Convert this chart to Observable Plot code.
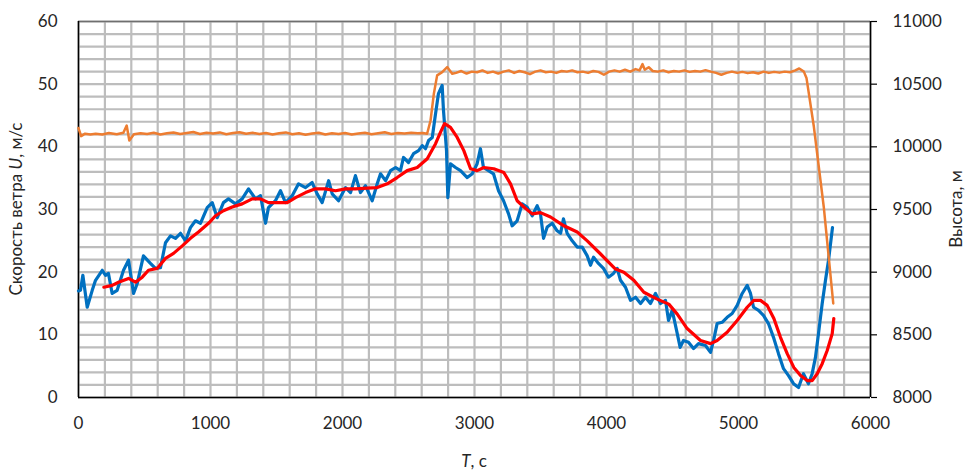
<!DOCTYPE html>
<html><head><meta charset="utf-8">
<script src="https://cdn.jsdelivr.net/npm/d3@7"></script>
<script src="https://cdn.jsdelivr.net/npm/@observablehq/plot@0.6"></script>
<style>body{margin:0;background:#fff}</style>
</head><body><div id="chart"></div>
<script>
// Raw wind speed U (m/s)
const speedTime = [0,15,33,66,104,129,180,205,227,255,293,341,379,417,445,492,545,583,621,659,697,735,773,811,848,886,924,975,1013,1051,1098,1136,1189,1240,1288,1341,1379,1417,1439,1492,1530,1568,1619,1667,1720,1770,1808,1846,1895,1922,1970,2023,2061,2098,2136,2174,2225,2263,2288,2326,2364,2402,2439,2462,2500,2538,2576,2604,2629,2652,2680,2705,2727,2755,2765,2788,2798,2818,2856,2894,2945,2983,3020,3045,3068,3106,3144,3182,3220,3258,3285,3323,3361,3398,3437,3475,3500,3523,3551,3589,3626,3652,3674,3702,3740,3778,3816,3854,3879,3902,3939,3977,4015,4053,4081,4106,4144,4182,4220,4258,4295,4333,4371,4409,4447,4470,4498,4536,4558,4583,4621,4659,4697,4750,4788,4811,4838,4876,4914,4952,4990,5028,5066,5091,5114,5152,5189,5227,5265,5303,5341,5379,5417,5455,5492,5530,5558,5583,5606,5634,5659,5682,5712];
const speedValue = [17,17.1,19.5,14.4,17.1,18.7,20.3,19.5,19.8,16.6,17.1,20.3,21.9,16.6,18.2,22.6,21.4,20.6,20.7,24.7,25.8,25.4,26.2,25.0,27.1,28.2,27.8,30.3,31.1,28.7,31.1,31.7,30.9,31.7,33.3,31.7,32.2,27.8,30.3,31.4,33.0,31.1,32.2,34.1,33.5,34.3,32.5,31.1,34.6,32.5,31.4,33.5,32.7,35.4,32.7,33.8,31.4,34.1,35.7,34.6,36.2,36.7,36.2,38.3,37.5,38.9,39.4,40.2,39.7,41.0,41.5,45.3,48.5,49.8,45.8,39.4,31.9,37.3,36.7,36.2,35.1,35.7,37.3,39.7,36.7,36.2,35.7,33.0,31.4,29.3,27.4,28.2,30.9,30.4,29.0,30.6,29.3,25.4,27.2,27.8,26.6,26.2,28.5,26.2,25.0,24.0,24.0,22.6,21.1,22.4,21.4,20.6,19.2,19.8,20.6,18.7,17.6,15.5,16.0,15.0,16.0,15.0,16.6,15.0,15.5,12.3,13.9,10.2,8.0,9.1,8.8,7.8,8.6,8.3,7.2,9.1,11.8,12.0,12.8,13.4,14.7,16.6,17.9,16.6,14.4,13.9,13.1,11.8,9.6,7.0,4.6,3.5,2.2,1.6,3.8,2.2,3.8,6.4,10.2,15.0,18.7,21.9,27.1];

// Smoothed wind speed (m/s)
const smoothTime = [192,255,303,379,432,483,530,596,659,720,786,848,909,985,1038,1098,1164,1240,1316,1379,1439,1515,1581,1644,1720,1795,1871,1947,2023,2098,2187,2263,2339,2414,2490,2566,2642,2705,2742,2773,2818,2869,2919,2970,3020,3071,3146,3222,3273,3323,3374,3437,3500,3576,3677,3778,3854,3955,4068,4131,4207,4283,4384,4472,4536,4611,4712,4788,4838,4914,4990,5066,5116,5167,5217,5268,5318,5369,5419,5470,5520,5558,5596,5634,5672,5710,5722];
const smoothValue = [17.6,17.9,18.4,19.0,18.4,19.2,20.3,20.6,22.2,23.0,24.2,25.4,26.4,27.8,29.0,29.8,30.4,30.9,31.7,31.7,31.1,31.1,31.1,31.9,32.7,33.3,33.3,33.0,33.3,33.3,33.4,33.5,34.1,35.1,36.2,36.7,38.1,40.5,42.3,43.7,43.1,41.5,39.4,36.5,36.2,36.7,36.5,35.9,34.1,31.4,30.4,29.3,29.5,28.8,27.4,26.4,25.0,22.9,20.5,20.0,18.7,16.8,15.7,14.9,13.3,11.0,9.1,8.6,9.1,10.4,12.3,14.4,15.5,15.5,14.7,12.6,9.6,7.0,4.8,3.5,2.7,2.7,3.8,5.4,7.5,10.2,12.6];

// Altitude (m), right axis
const altTime = [0,20,50,90,130,180,230,290,340,365,385,420,470,520,570,620,670,720,770,820,870,920,970,1020,1070,1120,1170,1220,1270,1320,1370,1420,1470,1520,1570,1620,1670,1720,1770,1820,1870,1920,1970,2020,2070,2120,2170,2220,2270,2320,2370,2420,2470,2520,2570,2610,2641,2667,2692,2717,2755,2793,2831,2860,2900,2940,2980,3020,3060,3100,3140,3180,3220,3260,3300,3340,3380,3420,3460,3500,3540,3580,3620,3660,3700,3740,3780,3820,3860,3900,3940,3980,4020,4060,4100,4140,4180,4220,4250,4273,4290,4320,4350,4390,4430,4470,4510,4550,4590,4630,4670,4710,4750,4790,4830,4870,4910,4950,4990,5030,5070,5110,5150,5190,5230,5270,5310,5350,5390,5430,5460,5495,5515,5571,5646,5718];
const altValue = [10150,10085,10105,10098,10105,10098,10110,10100,10112,10170,10050,10100,10108,10102,10112,10098,10108,10115,10102,10110,10118,10102,10112,10106,10115,10100,10110,10117,10104,10112,10102,10110,10098,10108,10115,10100,10108,10096,10106,10112,10098,10108,10102,10110,10098,10106,10112,10100,10108,10116,10102,10110,10106,10112,10108,10110,10104,10210,10423,10570,10596,10636,10583,10590,10605,10585,10600,10595,10610,10590,10600,10585,10600,10610,10590,10605,10595,10580,10600,10610,10595,10600,10590,10605,10600,10610,10595,10600,10590,10605,10598,10575,10600,10610,10600,10615,10600,10620,10610,10660,10615,10635,10605,10600,10610,10595,10605,10600,10610,10598,10605,10600,10612,10600,10590,10575,10590,10600,10590,10598,10588,10595,10585,10600,10590,10598,10592,10600,10595,10610,10625,10600,10550,10160,9520,8750];

const xTicks = [0,1000,2000,3000,4000,5000,6000];
const speedTicks = [0,10,20,30,40,50,60];
const altTicks = [8000,8500,9000,9500,10000,10500,11000];
const altMin = 8000, altMax = 11000, speedMax = 60;
const altToY = a => (a - altMin) / (altMax - altMin) * speedMax;

const blue = speedTime.map((t, i) => ({t, v: speedValue[i]}));
const red = smoothTime.map((t, i) => ({t, v: smoothValue[i]}));
const orange = altTime.map((t, i) => ({t, h: altValue[i]}));

const gridColor = "#bdbdbd";
const chart = Plot.plot({
  width: 978, height: 472,
  marginLeft: 78, marginRight: 108, marginTop: 21, marginBottom: 75,
  style: {fontFamily: "Lato, 'Open Sans', sans-serif", fontSize: "17px", color: "#262626", background: "#fff"},
  x: {domain: [0, 6000]},
  y: {domain: [0, speedMax]},
  marks: [
    Plot.ruleX(d3.range(0, 6001, 200), {stroke: gridColor, strokeWidth: 2.2}),
    Plot.ruleY(d3.range(0, 61, 2), {stroke: gridColor, strokeWidth: 2.2}),
    Plot.ruleY([speedMax], {stroke: "#6f6f6f", strokeWidth: 1.5}),
    Plot.ruleX([0], {stroke: "#000", strokeWidth: 1.5}),
    Plot.ruleX([6000], {stroke: "#000", strokeWidth: 1.5}),
    Plot.ruleY([0], {stroke: "#000", strokeWidth: 1.5}),
    Plot.axisX(xTicks, {tickSize: 0, tickPadding: 19, label: null, tickFormat: d => String(d)}),
    Plot.axisY(speedTicks, {tickSize: 0, tickPadding: 21, label: null, tickFormat: d => String(d)}),
    Plot.axisY(altTicks.map(altToY), {anchor: "right", tickSize: 6, tickPadding: 16, stroke: "#000", strokeWidth: 1.2,
      tickFormat: (d, i) => String(altTicks[i]), label: null}),
    Plot.line(blue, {x: "t", y: "v", stroke: "#0070C0", strokeWidth: 3.2, strokeLinejoin: "round"}),
    Plot.line(red, {x: "t", y: "v", stroke: "#FF0000", strokeWidth: 3.2, strokeLinejoin: "round"}),
    Plot.line(orange, {x: "t", y: d => altToY(d.h), stroke: "#ED7D31", strokeWidth: 2.5, strokeLinejoin: "round"})
  ]
});

const svg = d3.select(chart);
const lbl = (x, y, rot) => svg.append("text")
  .attr("transform", `translate(${x},${y})` + (rot ? ` rotate(${rot})` : ""))
  .attr("text-anchor", "middle").attr("font-size", 17).attr("fill", "#262626")
  .attr("font-family", "Lato, 'Open Sans', sans-serif");
const l1 = lbl(22, 209, -90);
l1.append("tspan").text("Скорость ветра ");
l1.append("tspan").attr("font-style", "italic").text("U");
l1.append("tspan").text(", м/с");
lbl(962, 209, -90).text("Высота, м");
const l3 = lbl(474, 467, 0);
l3.append("tspan").attr("font-style", "italic").text("T");
l3.append("tspan").text(", с");

document.getElementById("chart").appendChild(chart);
</script>
</body></html>
